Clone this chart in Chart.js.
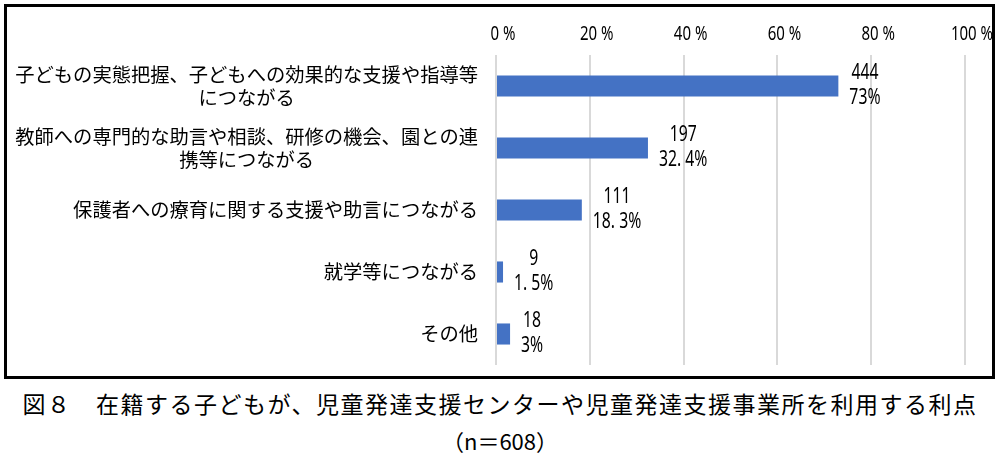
<!DOCTYPE html>
<html lang="ja">
<head>
<meta charset="utf-8">
<script src="https://cdn.jsdelivr.net/npm/chart.js@4.4.1/dist/chart.umd.min.js"></script>
<style>
  body { margin: 0; background: #fff; width: 1000px; height: 459px; position: relative; overflow: hidden;
         font-family: "Noto Sans CJK JP", sans-serif; color: #000; }
  #box { position: absolute; left: 4px; top: 4px; width: 985px; height: 369px; border: 3px solid #000; }
  #box canvas { display: block; }
  #title { position: absolute; left: 0; top: 387px; width: 1000px; text-align: center;
           font-size: 23px; letter-spacing: 1.5px; line-height: 32px; }
  #n { position: absolute; left: 0; top: 425px; width: 1000px; text-align: center;
       font-size: 22px; line-height: 30px; }
</style>
</head>
<body>
<div id="box"><canvas id="chart" width="985" height="369"></canvas></div>
<div id="title">図８　在籍する子どもが、児童発達支援センターや児童発達支援事業所を利用する利点</div>
<div id="n">（n＝608）</div>
<script>
(function () {
  'use strict';

  // ── Data ─────────────────────────────────────────────────────────────
  var categories = [
    ['子どもの実態把握、子どもへの効果的な支援や指導等', 'につながる'],
    ['教師への専門的な助言や相談、研修の機会、園との連', '携等につながる'],
    ['保護者への療育に関する支援や助言につながる'],
    ['就学等につながる'],
    ['その他']
  ];
  var counts = [444, 197, 111, 9, 18];
  var percents = [73, 32.4, 18.3, 1.5, 3];
  var xTicks = ['0 %', '20 %', '40 %', '60 %', '80 %', '100 %'];

  var barColor = '#4472c4';
  var gridColor = '#d9d9d9';
  var catFont = '19.3px "Noto Sans CJK JP", sans-serif';
  var numFont = '21px "Noto Sans", sans-serif';
  var tickFont = '20px "Noto Sans", sans-serif';
  var squeeze = 0.75; // narrow look of the original's half-width digits

  // "32.4" -> "32. 4%"
  function fmtPct(v) {
    return String(v).replace('.', '. ') + '%';
  }

  // draw text horizontally squeezed, centred on x
  function narrowText(ctx, txt, x, y) {
    ctx.save();
    ctx.translate(x, y);
    ctx.scale(squeeze, 1);
    ctx.fillText(txt, 0, 0);
    ctx.restore();
  }

  // Category labels: multi-line ones centred on their widest line, block right-aligned
  var categoryLabels = {
    id: 'categoryLabels',
    afterDraw: function (chart) {
      var ctx = chart.ctx;
      var ys = chart.scales.y;
      var right = ys.right - 18;
      ctx.save();
      ctx.font = catFont;
      ctx.fillStyle = '#000';
      ctx.textAlign = 'center';
      ctx.textBaseline = 'middle';
      categories.forEach(function (lines, i) {
        var y = ys.getPixelForTick(i);
        var maxW = Math.max.apply(null, lines.map(function (l) { return ctx.measureText(l).width; }));
        var cx = right - maxW / 2;
        lines.forEach(function (l, j) {
          ctx.fillText(l, cx, y + (j - (lines.length - 1) / 2) * 23);
        });
      });
      ctx.restore();
    }
  };

  // Percent tick labels along the top
  var tickLabels = {
    id: 'tickLabels',
    afterDraw: function (chart) {
      var ctx = chart.ctx;
      var xs = chart.scales.x;
      ctx.save();
      ctx.font = tickFont;
      ctx.fillStyle = '#000';
      ctx.textAlign = 'center';
      ctx.textBaseline = 'middle';
      xs.ticks.forEach(function (t, i) {
        narrowText(ctx, xTicks[i], xs.getPixelForValue(t.value) + 7, xs.top + 27);
      });
      ctx.restore();
    }
  };

  // Value labels: count over percent, just right of the bar end
  var valueLabels = {
    id: 'valueLabels',
    afterDatasetsDraw: function (chart) {
      var ctx = chart.ctx;
      var meta = chart.getDatasetMeta(0);
      ctx.save();
      ctx.font = numFont;
      ctx.fillStyle = '#000';
      ctx.textAlign = 'center';
      ctx.textBaseline = 'middle';
      meta.data.forEach(function (bar, i) {
        var lines = [String(counts[i]), fmtPct(percents[i])];
        var maxW = squeeze * Math.max(ctx.measureText(lines[0]).width, ctx.measureText(lines[1]).width);
        var cx = bar.x + 11 + maxW / 2;
        narrowText(ctx, lines[0], cx, bar.y - 12.5);
        narrowText(ctx, lines[1], cx, bar.y + 12.5);
      });
      ctx.restore();
    }
  };

  new Chart(document.getElementById('chart'), {
    type: 'bar',
    data: {
      labels: categories,
      datasets: [{
        data: percents,
        backgroundColor: barColor,
        borderWidth: 0,
        categoryPercentage: 1,
        barPercentage: 0.34
      }]
    },
    options: {
      indexAxis: 'y',
      responsive: false,
      animation: false,
      layout: { padding: { left: 0, right: 27, top: 0, bottom: 11 } },
      plugins: {
        legend: { display: false },
        tooltip: { enabled: false }
      },
      scales: {
        x: {
          position: 'top',
          min: 0,
          max: 100,
          afterFit: function (s) {
            s.height = 48;
            s.paddingLeft = 0;
            s.paddingRight = 0;
          },
          grid: { color: gridColor, lineWidth: 2, drawTicks: false },
          border: { display: false },
          ticks: { stepSize: 20, display: false }
        },
        y: {
          afterFit: function (s) { s.width = 489; },
          grid: { display: false },
          border: { display: false },
          ticks: { display: false }
        }
      }
    },
    plugins: [categoryLabels, tickLabels, valueLabels]
  });
})();
</script>
</body>
</html>
